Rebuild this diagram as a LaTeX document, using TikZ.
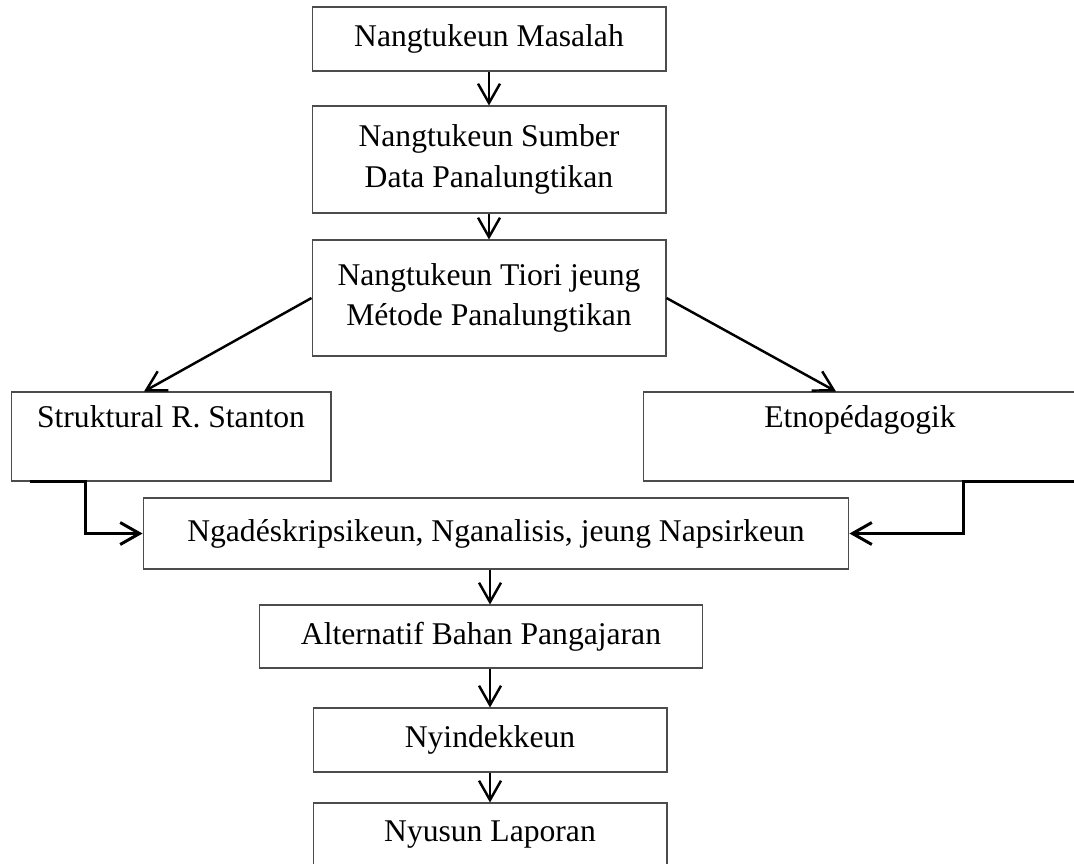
\documentclass[tikz,border=0pt]{standalone}
\usepackage{fontspec}
\setmainfont{Liberation Serif}
\usepackage{tikz}
\usetikzlibrary{arrows.meta}

\tikzset{
  stepbox/.style={draw=black!70, line width=0.6pt, align=center, inner sep=0pt,
    font=\fontsize{18}{23}\selectfont},
  flow/.style={line width=1.4pt, -{Straight Barb[length=11pt,width=12.5pt]}},
  elbow/.style={flow, line width=1.7pt}
}

\begin{document}
\begin{tikzpicture}[x=0.02cm, y=-0.02cm]
    % Page frame
    \useasboundingbox (0,0) rectangle (1074,863);
    \clip (0,0) rectangle (1074,863);

    % Main column
    \node[stepbox, minimum width=7.08cm, minimum height=1.28cm] (masalah) at (489,39) {Nangtukeun Masalah};
    \node[stepbox, minimum width=7.08cm, minimum height=2.14cm] (sumber) at (489,159.5) {Nangtukeun Sumber\\Data Panalungtikan};
    \node[stepbox, minimum width=7.08cm, minimum height=2.32cm] (tiori) at (489,298) {Nangtukeun Tiori jeung\\M\'etode Panalungtikan};

    % Two approaches
    \node[stepbox, minimum width=6.4cm, minimum height=1.78cm] (struk) at (171,436.5) {Struktural R. Stanton\\\mbox{}};
    \node[stepbox, minimum width=8.68cm, minimum height=1.78cm] (etno) at (860,436.5) {Etnop\'edagogik\\\mbox{}};

    % Lower column
    \node[stepbox, minimum width=14.12cm, minimum height=1.42cm] (ngad) at (496,533.5) {Ngad\'eskripsikeun, Nganalisis, jeung Napsirkeun};
    \node[stepbox, minimum width=8.88cm, minimum height=1.26cm] (alt) at (481,636.5) {Alternatif Bahan Pangajaran};
    \node[stepbox, minimum width=7.08cm, minimum height=1.28cm] (nyindek) at (490,740) {Nyindekkeun};
    \node[stepbox, minimum width=7.08cm, minimum height=1.26cm] (nyusun) at (490,834.5) {Nyusun Laporan};

    % Arrows down
    \draw[flow] (masalah) -- (sumber);
    \draw[flow] (sumber) -- (tiori);
    \draw[flow] (tiori.west) -- ([xshift=-0.54cm]struk.north);
    \draw[flow] (tiori.east) -- ([xshift=-0.48cm]etno.north);

    % Elbows into the analysis step
    \draw[elbow] ([xshift=0.38cm]struk.south west) -- ([xshift=1.5cm]struk.south west) |- (ngad.west);
    \draw[elbow] (etno.south east) -- ([xshift=-2.28cm]etno.south east) |- (ngad.east);

    \draw[flow] (ngad.south -| nyindek.north) -- (alt.north -| nyindek.north);
    \draw[flow] (alt.south -| nyindek.north) -- (nyindek);
    \draw[flow] (nyindek) -- (nyusun);
\end{tikzpicture}
\end{document}
